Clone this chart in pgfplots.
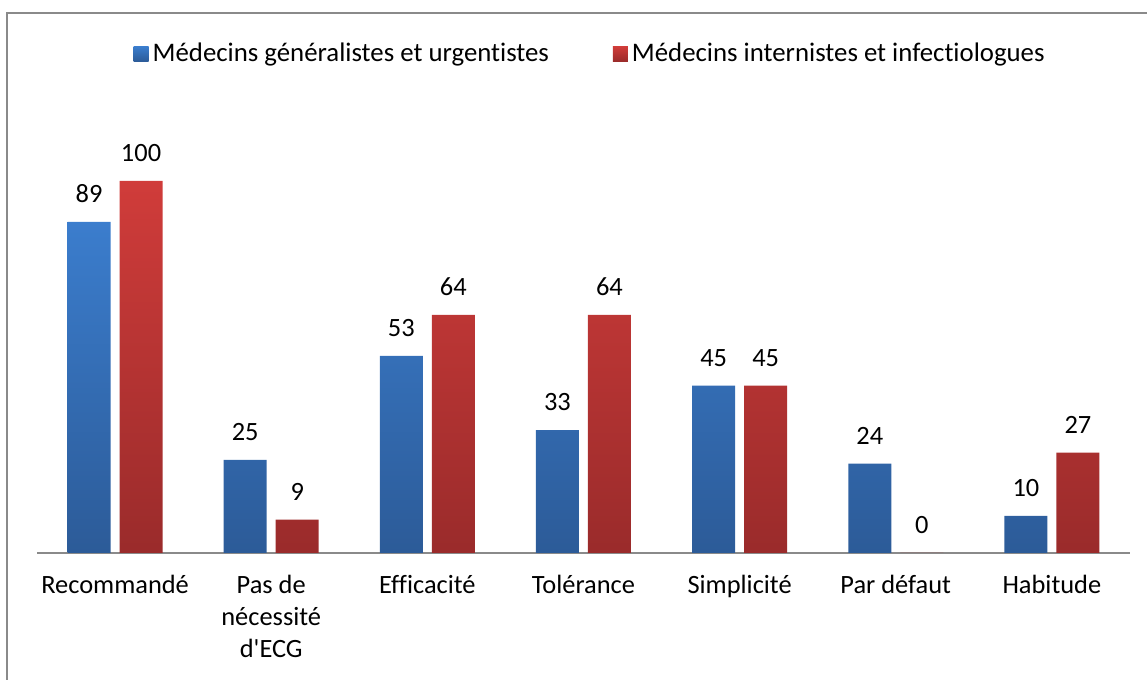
\documentclass[border=0pt]{standalone}
\usepackage{fontspec}
\setmainfont{Carlito}[Ligatures={NoCommon,TeXOff}]
\usepackage{pgfplots}
\pgfplotsset{compat=1.18}
\definecolor{bluetop}{HTML}{3B7DCD}
\definecolor{bluebot}{HTML}{2C5B98}
\definecolor{redtop}{HTML}{D03C3A}
\definecolor{redbot}{HTML}{9A2B2B}
\definecolor{framegray}{HTML}{8A8A8A}
\begin{document}
\begin{tikzpicture}
\useasboundingbox (0,0) rectangle (573.5pt,340pt);
\draw[framegray, line width=1pt] (3.5pt,0pt) -- (3.5pt,333.5pt) -- (573.5pt,333.5pt);
\begin{axis}[
  at={(18.5pt,63.5pt)}, anchor=south west,
  scale only axis, width=546.5pt, height=186pt,
  ymin=0, ymax=100, xmin=-0.5, xmax=6.5,
  clip=false,
  axis x line=bottom, axis line style={-, draw=framegray, line width=1pt},
  hide y axis,
  xtick=data, major tick length=0pt,
  xticklabels={Recommandé, {Pas de\\nécessité\\d'ECG}, Efficacité, Tolérance, Simplicité, Par défaut, Habitude},
  xticklabel style={align=center, inner sep=0pt, yshift=-11pt},
  font=\fontsize{13.2pt}{16pt}\selectfont,
  /pgf/number format/assume math mode=true,
  ybar, bar width=21.5pt,
  nodes near coords,
  every node near coord/.append style={anchor=south, inner sep=0pt, yshift=9.5pt, black},
  legend columns=2,
  legend style={at={(0.507,1)}, anchor=center, yshift=63.5pt, draw=none, fill=none,
    font=\fontsize{13.4pt}{16pt}\selectfont,
    /tikz/every even column/.append style={column sep=30pt}},
  legend image code/.code={\path[#1, draw=none] (-1.5pt,-3.75pt) rectangle (6pt,3.75pt);},
]
\addplot[draw=none, bar shift=-13pt, top color=bluetop, bottom color=bluebot] coordinates {(0,89) (1,25) (2,53) (3,33) (4,45) (5,24) (6,10)};
\addplot[draw=none, bar shift=13pt, top color=redtop, bottom color=redbot] coordinates {(0,100) (1,9) (2,64) (3,64) (4,45) (5,0) (6,27)};
\legend{Médecins généralistes et urgentistes, Médecins internistes et infectiologues}
\end{axis}
\end{tikzpicture}
\end{document}
